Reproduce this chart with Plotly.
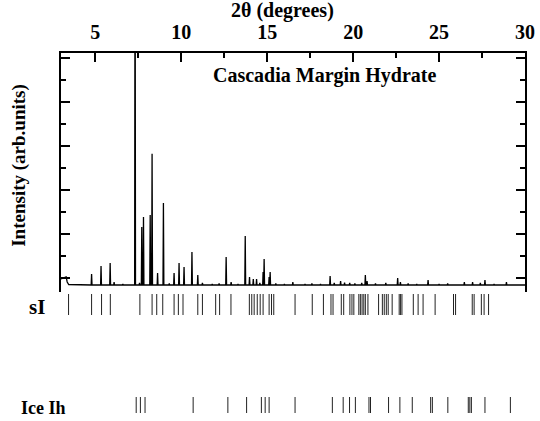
import plotly.graph_objects as go

# ---- data ----
# leading part of the pattern (2theta in degrees, intensity arb. units)
start_two_theta = [3.0, 3.2, 3.3, 3.36, 3.45]
start_intensity = [6, 7, 8, 3, 0.5]

# diffraction peaks: position (deg) and height above background (arb. units)
peak_pos = [4.78, 5.33, 5.86, 6.09, 6.6, 7.31, 7.57, 7.70, 7.80, 8.19, 8.30, 8.62,
            8.96, 9.30, 9.58, 9.87, 10.16, 10.62, 10.96, 11.23, 11.8, 12.2, 12.61,
            12.90, 13.3, 13.72, 13.97, 14.19, 14.38, 14.57, 14.76, 14.82, 15.11,
            15.17, 15.5, 16.0, 16.49, 17.2, 17.6, 18.1, 18.66, 18.9, 19.27, 19.5,
            19.8, 20.1, 20.5, 20.71, 20.81, 21.3, 21.9, 22.59, 22.75, 23.2, 23.7,
            24.36, 25.0, 25.5, 26.47, 26.95, 27.4, 27.67, 28.2, 28.92]
peak_height = [11, 19, 22, 3, 1, 400, 2, 58, 68, 70, 131, 12,
               82, 1.5, 12, 22, 18, 33, 10, 2, 1, 1.5, 28,
               3, 1, 49, 8, 6, 6, 2, 13, 26, 8,
               13, 1.5, 1, 3, 1, 1.5, 1, 9, 2, 4, 2.5,
               2, 1.5, 2, 10, 4, 1.5, 2, 7, 3, 1.5, 1,
               5, 1, 1.5, 3, 3, 2, 5, 1, 3]
end_two_theta = 30.0

# reflection positions (deg)
sI_refl = [3.44, 4.78, 5.36, 5.87, 7.59, 8.30, 8.57, 8.92, 9.58, 9.83, 10.10, 10.96,
           11.23, 12.00, 12.23, 12.89, 13.96, 14.10, 14.24, 14.42, 14.59, 14.76,
           15.11, 15.25, 15.38, 16.62, 17.62, 18.27, 18.71, 18.83, 19.31, 19.45,
           19.81, 19.93, 20.04, 20.33, 20.42, 20.52, 20.62, 20.71, 20.86, 21.48,
           21.70, 21.81, 21.93, 22.04, 22.27, 22.68, 22.76, 22.84, 23.50, 23.78,
           24.07, 24.77, 25.84, 25.96, 26.93, 27.04, 27.46, 27.62, 27.88]
ice_refl = [7.375, 7.62, 7.89, 10.69, 12.71, 13.80, 14.66, 14.88, 15.11, 16.62,
            18.79, 19.42, 19.79, 20.13, 20.92, 21.01, 22.06, 22.72, 23.44, 24.51,
            24.61, 25.51, 26.70, 26.79, 26.88, 27.67, 29.15]

x_tick_vals = [5, 10, 15, 20, 25, 30]
x_tick_text = ["5", "10", "15", "20", "25", "30"]

# ---- build the pattern polyline ----
HALF_W = 0.025
px, py = list(start_two_theta), list(start_intensity)
for p, h in zip(peak_pos, peak_height):
    px += [p - HALF_W, p, p + HALF_W]
    py += [0, h, 0]
px.append(end_two_theta)
py.append(0)

def sticks(positions, lo, hi):
    xs, ys = [], []
    for p in positions:
        xs += [p, p, None]
        ys += [lo, hi, None]
    return xs, ys

FONT = "Liberation Serif"

fig = go.Figure()
fig.add_trace(go.Scatter(x=px, y=py, mode="lines",
                         line=dict(color="black", width=1.3),
                         xaxis="x", yaxis="y", hoverinfo="skip", showlegend=False))
sx, sy = sticks(sI_refl, 101, 122)
fig.add_trace(go.Scatter(x=sx, y=sy, mode="lines", line=dict(color="#222", width=1),
                         xaxis="x", yaxis="y2", hoverinfo="skip", showlegend=False))
ix, iy = sticks(ice_refl, 3, 19)
fig.add_trace(go.Scatter(x=ix, y=iy, mode="lines", line=dict(color="#222", width=1),
                         xaxis="x", yaxis="y2", hoverinfo="skip", showlegend=False))

split = (416 - 292) / 363

fig.update_layout(
    width=540, height=421,
    margin=dict(l=61, r=10, t=53, b=5),
    paper_bgcolor="white", plot_bgcolor="white",
    xaxis=dict(range=[3, 30], side="top", anchor="y",
               showline=True, linecolor="black", linewidth=1.5,
               ticks="inside", ticklen=9, tickwidth=1.5, tickcolor="black",
               tickvals=x_tick_vals, ticktext=x_tick_text,
               minor=dict(ticks="inside", ticklen=5, dtick=2.5, tick0=0,
                          tickcolor="black", tickwidth=1.5),
               tickfont=dict(family=FONT, size=20, color="black", weight="bold"),
               ticklabelstandoff=4,
               showgrid=False, zeroline=False),
    yaxis=dict(domain=[split, 1], range=[-7, 231.7], anchor="x",
               showline=True, mirror="ticks", linecolor="black", linewidth=1.5,
               ticks="inside", ticklen=9, tickwidth=1.5, tickcolor="black",
               tick0=7, dtick=44, showticklabels=False,
               minor=dict(ticks="inside", ticklen=5, dtick=22, tick0=7,
                          tickcolor="black", tickwidth=1.5),
               showgrid=False, zeroline=False),
    yaxis2=dict(domain=[0, split], range=[0, 124], anchor="x", visible=False,
                showgrid=False, zeroline=False),
    annotations=[
        dict(text="2θ (degrees)", xref="paper", yref="paper", x=0.478, y=(416 - 11) / 363,
             xanchor="center", yanchor="middle", showarrow=False,
             font=dict(family=FONT, size=20, color="black", weight="bold")),
        dict(text="Cascadia Margin Hydrate", xref="paper", yref="paper",
             x=(327 - 60.7) / 469.3, y=(416 - 76) / 363,
             xanchor="center", yanchor="middle", showarrow=False,
             font=dict(family=FONT, size=20, color="black", weight="bold")),
        dict(text="Intensity (arb.units)", xref="paper", yref="paper",
             x=(18 - 60.7) / 469.3, y=(416 - 165) / 363, textangle=-90,
             xanchor="center", yanchor="middle", showarrow=False,
             font=dict(family=FONT, size=19, color="black", weight="bold")),
        dict(text="sI", xref="paper", yref="paper",
             x=(47 - 60.7) / 469.3, y=(416 - 307) / 363,
             xanchor="right", yanchor="middle", showarrow=False,
             font=dict(family=FONT, size=21, color="black", weight="bold")),
        dict(text="Ice Ih", xref="paper", yref="paper",
             x=(68 - 60.7) / 469.3, y=(416 - 408) / 363,
             xanchor="right", yanchor="middle", showarrow=False,
             font=dict(family=FONT, size=18, color="black", weight="bold")),
    ],
)

fig.write_html("out.html", config={"displayModeBar": False},
               post_script="document.body.style.margin='0';document.body.style.padding='0';")
